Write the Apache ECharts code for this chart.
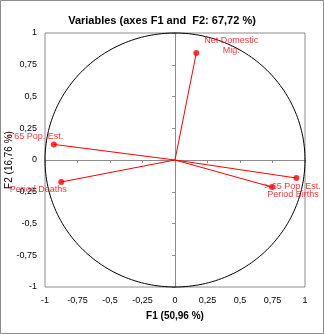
<!DOCTYPE html>
<html>
<head>
<meta charset="utf-8">
<script src="https://cdn.jsdelivr.net/npm/echarts@6/dist/echarts.min.js"></script>
<style>
  html, body { margin: 0; padding: 0; background: #fff; }
  #chart { width: 324px; height: 334px; }
</style>
</head>
<body>
<div id="chart"></div>
<script>
// Correlation circle: variable loadings on F1 / F2
const variables = ['Net Domestic\nMig.', '< 65 Pop. Est.', 'Period Deaths', '> 65 Pop. Est.', 'Period Births'];
const f1 = [0.164, -0.932, -0.875, 0.934, 0.746];
const f2 = [0.843, 0.123, -0.173, -0.142, -0.213];
const axisTicks = [-1, -0.75, -0.5, -0.25, 0, 0.25, 0.5, 0.75, 1];

const titleText = 'Variables (axes F1 and  F2: 67,72 %)';
const xName = 'F1 (50,96 %)';
const yName = 'F2 (16,76 %)';

// label offsets around each point
const labelOffsets = [[35, -7], [-19, -8], [-23, 8], [-4, 8], [21, 7]];

const FONT = 'Liberation Sans';
const RED = '#ff0000';
const GRAY = '#8c8c8c';

const fmt = v => String(v).replace('.', ',');

const points = variables.map((name, i) => ({
  name: name,
  value: [f1[i], f2[i]],
  label: { offset: labelOffsets[i] }
}));

const chart = echarts.init(document.getElementById('chart'), null, { renderer: 'canvas' });

const valueAxisBase = {
  type: 'value', min: axisTicks[0], max: axisTicks[axisTicks.length - 1], interval: 0.25,
  splitLine: { show: false }
};

chart.setOption({
  animation: false,
  backgroundColor: '#fff',
  title: {
    text: titleText, left: 'center', top: 10,
    textStyle: { fontFamily: FONT, fontSize: 11, fontWeight: 'bold', color: '#000' }
  },
  graphic: [{
    type: 'rect', silent: true,
    shape: { x: 0.5, y: 0.5, width: 323, height: 333 },
    style: { fill: 'none', stroke: GRAY, lineWidth: 1 }
  }],
  grid: {
    left: 45, top: 33, width: 260, height: 254,
    containLabel: false, outerBoundsMode: 'none',
    show: true, borderColor: GRAY, borderWidth: 1, backgroundColor: 'transparent'
  },
  xAxis: [
    Object.assign({}, valueAxisBase, {
      position: 'bottom',
      axisLine: { show: false, onZero: false },
      axisTick: { show: false },
      axisLabel: { formatter: fmt, fontFamily: FONT, fontSize: 9, color: '#000', margin: 9 },
      name: xName, nameLocation: 'middle', nameGap: 24, nameMoveOverlap: false,
      nameTextStyle: { fontFamily: FONT, fontSize: 10, fontWeight: 'bold', color: '#000' }
    }),
    Object.assign({}, valueAxisBase, {
      position: 'bottom',
      axisLine: { show: true, onZero: true, lineStyle: { color: GRAY, width: 1 } },
      axisTick: { show: true, length: 3, lineStyle: { color: GRAY } },
      axisLabel: { show: false }
    })
  ],
  yAxis: [
    Object.assign({}, valueAxisBase, {
      position: 'left',
      axisLine: { show: false, onZero: false },
      axisTick: { show: false },
      axisLabel: { formatter: fmt, fontFamily: FONT, fontSize: 9, color: '#000', margin: 8 },
      name: yName, nameLocation: 'middle', nameGap: 31, nameMoveOverlap: false,
      nameTextStyle: { fontFamily: FONT, fontSize: 10, color: '#000' }
    }),
    Object.assign({}, valueAxisBase, {
      position: 'left',
      axisLine: { show: true, onZero: true, lineStyle: { color: GRAY, width: 1 } },
      axisTick: { show: true, length: 3, lineStyle: { color: GRAY } },
      axisLabel: { show: false }
    })
  ],
  series: [
    {
      // unit correlation circle
      type: 'custom', xAxisIndex: 0, yAxisIndex: 0, silent: true, clip: false,
      data: [[0, 0]],
      renderItem: function (params, api) {
        const pts = [];
        const n = 240;
        for (let k = 0; k <= n; k++) {
          const a = k / n * Math.PI * 2;
          pts.push(api.coord([Math.cos(a), Math.sin(a)]));
        }
        return {
          type: 'polyline', shape: { points: pts },
          style: { stroke: '#000', fill: null, lineWidth: 1 }
        };
      },
      z: 2
    },
    {
      // vectors from the origin
      type: 'custom', xAxisIndex: 0, yAxisIndex: 0, silent: true,
      data: f1.map((x, i) => [x, f2[i]]),
      renderItem: function (params, api) {
        const o = api.coord([0, 0]);
        const p = api.coord([api.value(0), api.value(1)]);
        return {
          type: 'line',
          shape: { x1: o[0], y1: o[1], x2: p[0], y2: p[1] },
          style: { stroke: RED, lineWidth: 1 }
        };
      },
      z: 3
    },
    {
      type: 'scatter', xAxisIndex: 0, yAxisIndex: 0,
      symbol: 'circle', symbolSize: 6,
      itemStyle: { color: RED },
      label: {
        show: true, position: 'inside', align: 'center', verticalAlign: 'middle',
        formatter: p => p.name,
        fontFamily: FONT, fontSize: 9, color: RED, lineHeight: 10
      },
      data: points,
      z: 4
    }
  ]
});
</script>
</body>
</html>
